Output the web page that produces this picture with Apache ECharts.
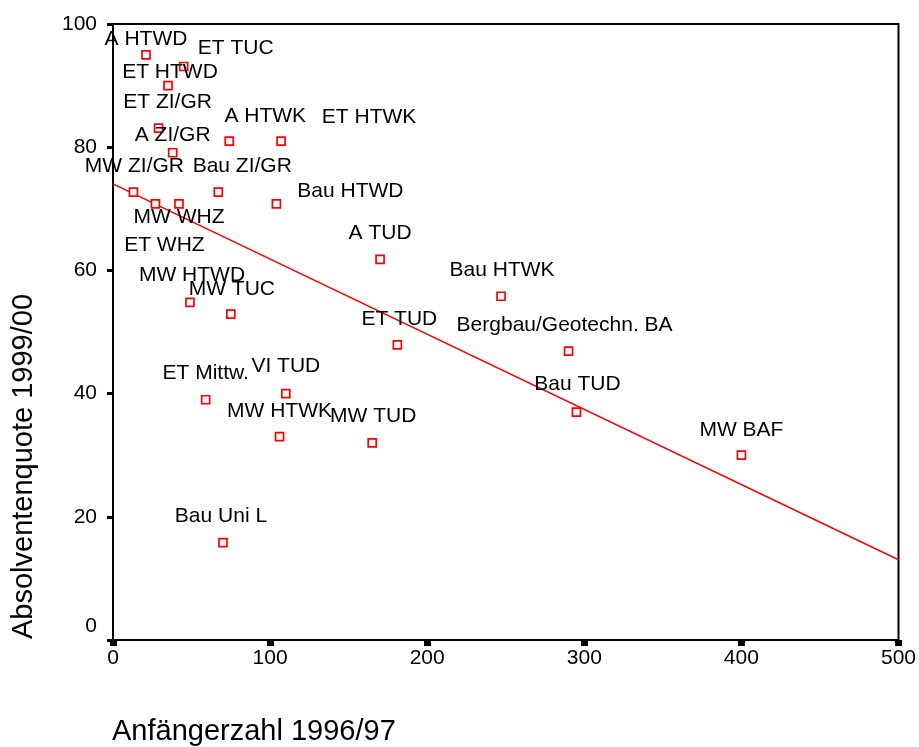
<!DOCTYPE html>
<html>
<head>
<meta charset="utf-8">
<script src="https://cdn.jsdelivr.net/npm/echarts@6/dist/echarts.min.js"></script>
<style>
html,body{margin:0;padding:0;background:#fff;}
#chart{width:919px;height:747px;}
</style>
</head>
<body>
<div id="chart"></div>
<script>
// ---- Data ----
const names = [
  'A HTWD','ET TUC','ET HTWD','ET ZI/GR','A HTWK','ET HTWK','A ZI/GR','MW ZI/GR',
  'Bau ZI/GR','Bau HTWD','MW WHZ','ET WHZ','A TUD','MW HTWD','MW TUC','ET TUD',
  'ET Mittw.','VI TUD','MW HTWK','MW TUD','Bau Uni L','Bau HTWK',
  'Bergbau/Geotechn. BA','Bau TUD','MW BAF'
];
const anfaenger = [
  21, 45, 35, 29, 74, 107, 38, 13,
  67, 104, 42, 27, 170, 49, 75, 181,
  59, 110, 106, 165, 70, 247,
  290, 295, 400
];
const quote = [
  95.0, 93.1, 90.0, 83.1, 81.0, 81.0, 79.1, 72.7,
  72.7, 70.8, 70.8, 70.8, 61.8, 54.8, 52.9, 47.9,
  39.0, 40.0, 33.0, 32.0, 15.8, 55.8,
  46.9, 37.0, 30.0
];
const xTicks = [0, 100, 200, 300, 400, 500];
const yTicks = [0, 20, 40, 60, 80, 100];

// ---- Label placement (style only, pixel offsets from marker centre) ----
const labelOffsets = [
  [0,-16],[52,-18],[2,-13],[9,-26],[36,-25],[88,-24],[0,-18],[1,-26],
  [24,-26],[74,-13],[0,13],[9,41],[0,-26],[2,-27],[1,-25],[2,-26],
  [0,-27],[0,-27],[0,-26],[1,-27],[-2,-26],[1,-26],
  [-4,-26],[1,-28],[0,-25]
];

// ---- Linear regression fit from the data ----
const n = anfaenger.length;
const mx = anfaenger.reduce((a,b)=>a+b,0)/n;
const my = quote.reduce((a,b)=>a+b,0)/n;
let sxy = 0, sxx = 0;
for (let i=0;i<n;i++){ sxy += (anfaenger[i]-mx)*(quote[i]-my); sxx += (anfaenger[i]-mx)**2; }
const slope = sxy/sxx;
const icpt = my - slope*mx;
const xMin = xTicks[0], xMax = xTicks[xTicks.length-1];
const fitLine = [[xMin, icpt + slope*xMin], [xMax, icpt + slope*xMax]];

const FONT = "'Liberation Sans', Arial, sans-serif";

const chart = echarts.init(document.getElementById('chart'), null, {renderer:'canvas'});
chart.setOption({
  animation: false,
  backgroundColor: '#fff',
  grid: { left: 113, right: 19, top: 24, bottom: 107, show: true, borderColor: '#000', borderWidth: 2, backgroundColor: 'transparent' },
  xAxis: {
    type: 'value', min: xMin, max: xMax, interval: 100,
    axisLine: { onZero: false, lineStyle: { color: '#000', width: 2 } },
    axisTick: { show: true, length: 6, lineStyle: { color: '#000', width: 7 } },
    axisLabel: { color: '#000', fontSize: 21, fontFamily: FONT, margin: 8 },
    splitLine: { show: false }
  },
  yAxis: {
    type: 'value', min: yTicks[0], max: yTicks[yTicks.length-1], interval: 20,
    axisLine: { onZero: false, lineStyle: { color: '#000', width: 2 } },
    axisTick: { show: true, length: 6, lineStyle: { color: '#000', width: 3 } },
    axisLabel: {
      color: '#000', fontSize: 21, fontFamily: FONT, margin: 16,
      formatter: v => v === 0 ? '{z|0}' : String(v),
      rich: { z: { fontSize: 21, fontFamily: FONT, color: '#000', padding: [0,0,28,0] } }
    },
    splitLine: { show: false }
  },
  graphic: [
    { type: 'text', x: 112, y: 732, z: 10,
      style: { text: 'Anfängerzahl 1996/97', fontSize: 29, fontFamily: FONT, fill: '#000', align: 'left', verticalAlign: 'middle' } },
    { type: 'text', x: 24, y: 466.5, rotation: Math.PI/2, z: 10,
      style: { text: 'Absolventenquote 1999/00', fontSize: 29, fontFamily: FONT, fill: '#000', align: 'center', verticalAlign: 'middle' } }
  ],
  series: [
    {
      type: 'line',
      data: fitLine,
      showSymbol: false,
      symbol: 'none',
      lineStyle: { color: '#ff0000', width: 1.5 },
      silent: true,
      z: 2
    },
    {
      type: 'scatter',
      symbol: 'rect',
      symbolSize: 8,
      itemStyle: { color: '#ffffff', borderColor: '#ff0000', borderWidth: 1.7, opacity: 1 },
      label: {
        show: true, position: 'inside',
        formatter: p => p.name,
        color: '#000', fontSize: 21, fontFamily: FONT
      },
      data: names.map((nm, i) => ({
        name: nm,
        value: [anfaenger[i], quote[i]],
        label: { offset: labelOffsets[i] }
      })),
      z: 3
    }
  ]
});
</script>
</body>
</html>
